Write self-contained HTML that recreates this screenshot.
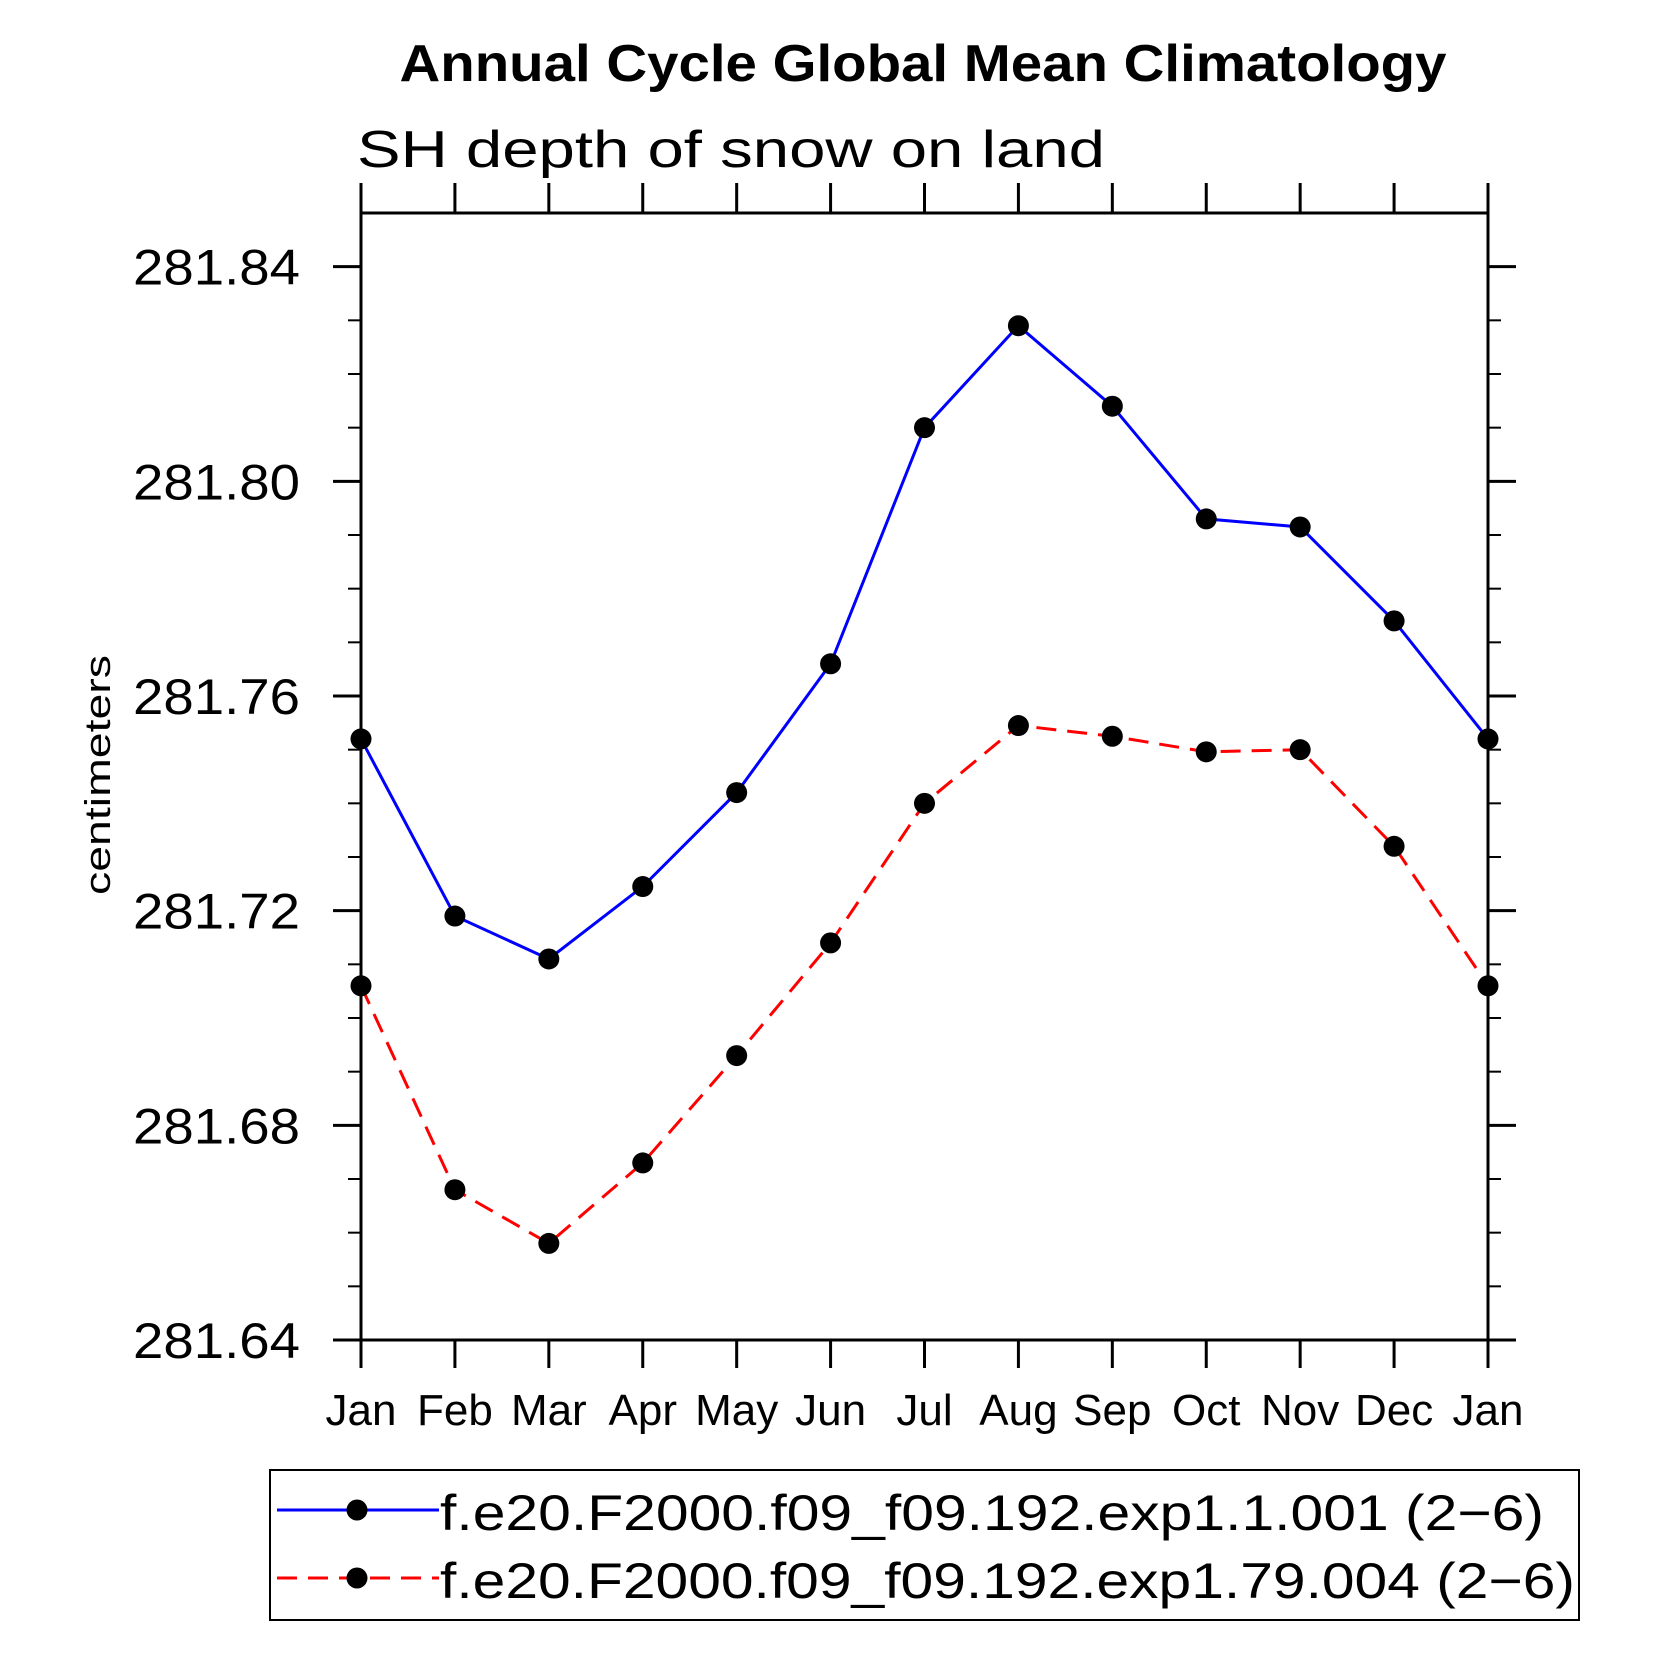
<!DOCTYPE html>
<html><head><meta charset="utf-8"><style>
html,body{margin:0;padding:0;background:#fff}
svg{display:block}
text{font-family:"Liberation Sans",sans-serif}
</style></head><body>
<svg id="chart" width="1658" height="1658" viewBox="0 0 1658 1658" xmlns="http://www.w3.org/2000/svg">
<text x="923" y="81" text-anchor="middle" font-size="52" font-weight="bold" textLength="1047" lengthAdjust="spacingAndGlyphs">Annual Cycle Global Mean Climatology</text>
<text x="357" y="167" font-size="52" textLength="748" lengthAdjust="spacingAndGlyphs">SH depth of snow on land</text>
<text transform="translate(110,775) rotate(-90)" text-anchor="middle" font-size="36" textLength="240" lengthAdjust="spacingAndGlyphs">centimeters</text>
<g id="axes"></g>
<g id="series"></g>
<rect x="270" y="1470" width="1309" height="150" fill="none" stroke="#000" stroke-width="2"/>
<line x1="277" y1="1510" x2="439" y2="1510" stroke="#0000ff" stroke-width="3"/>
<circle cx="357" cy="1510" r="10.5" fill="#000"/>
<text x="440" y="1530" font-size="50" textLength="1104" lengthAdjust="spacingAndGlyphs">f.e20.F2000.f09_f09.192.exp1.1.001 (2−6)</text>
<line x1="277" y1="1578" x2="439" y2="1578" stroke="#ff0000" stroke-width="3" stroke-dasharray="20,11"/>
<circle cx="357" cy="1578" r="10.5" fill="#000"/>
<text x="440" y="1598" font-size="50" textLength="1135" lengthAdjust="spacingAndGlyphs">f.e20.F2000.f09_f09.192.exp1.79.004 (2−6)</text>
</svg>
<script>
const months = ["Jan","Feb","Mar","Apr","May","Jun","Jul","Aug","Sep","Oct","Nov","Dec","Jan"];
const blueValues = [281.752,281.719,281.711,281.7245,281.742,281.766,281.810,281.829,281.814,281.793,281.7915,281.774,281.752];
const redValues = [281.706,281.668,281.658,281.673,281.693,281.714,281.740,281.7545,281.7525,281.7496,281.750,281.732,281.706];
const yTickLabels = ["281.64","281.68","281.72","281.76","281.80","281.84"];
const yMin = 281.64, yMax = 281.85;

const NS = "http://www.w3.org/2000/svg";
const L = 361, R = 1488, T = 213, B = 1340;
function xPos(i){ return L + i*(R-L)/(months.length-1); }
function yPos(v){ return B - (v-yMin)/(yMax-yMin)*(B-T); }
function mk(tag, attrs, parent){
  const e = document.createElementNS(NS, tag);
  for (const k in attrs) e.setAttribute(k, attrs[k]);
  parent.appendChild(e);
  return e;
}
const axes = document.getElementById("axes");
const series = document.getElementById("series");

const frame = mk("rect", {x:L, y:T, width:R-L, height:B-T, fill:"none", stroke:"#000", "stroke-width":3}, axes);



months.forEach((m, i) => {
  const x = xPos(i);
  const tb = mk("line", {x1:x, y1:B, x2:x, y2:B+28, stroke:"#000", "stroke-width":3}, axes);
  
  
  const tt = mk("line", {x1:x, y1:T, x2:x, y2:T-30, stroke:"#000", "stroke-width":3}, axes);
  
  
  const lab = mk("text", {x:x, y:1425, "text-anchor":"middle", "font-size":"44"}, axes);
  lab.textContent = m;
  
  
});

for (let k = 0; k <= 20; k++) {
  const v = yMin + k*0.01;
  if (v > yMax + 1e-9) break;
  const y = yPos(v);
  const major = k % 4 === 0;
  const len = major ? 28 : 13;
  const tl = mk("line", {x1:L, y1:y, x2:L-len, y2:y, stroke:"#000", "stroke-width":major?3:2}, axes);
  
  
  const tr = mk("line", {x1:R, y1:y, x2:R+len, y2:y, stroke:"#000", "stroke-width":major?3:2}, axes);
  
  
}
yTickLabels.forEach(s => {
  const y = yPos(parseFloat(s));
  const t = mk("text", {x:300, y:y+18, "text-anchor":"end", "font-size":"50", textLength:"167", lengthAdjust:"spacingAndGlyphs"}, axes);
  t.textContent = s;
  
  
});

function drawSeries(vals, color, dash, name){
  const pts = vals.map((v,i) => xPos(i).toFixed(1)+","+yPos(v).toFixed(1)).join(" ");
  const pl = mk("polyline", {points:pts, fill:"none", stroke:color, "stroke-width":3}, series);
  if (dash) pl.setAttribute("stroke-dasharray", dash);
  
  
  vals.forEach((v,i) => {
    const c = mk("circle", {cx:xPos(i), cy:yPos(v), r:10.5, fill:"#000"}, series);
    
    
  });
}
drawSeries(blueValues, "#0000ff", null, "exp1-001");
drawSeries(redValues, "#ff0000", "20,11", "exp1-79-004");
</script>
</body></html>
